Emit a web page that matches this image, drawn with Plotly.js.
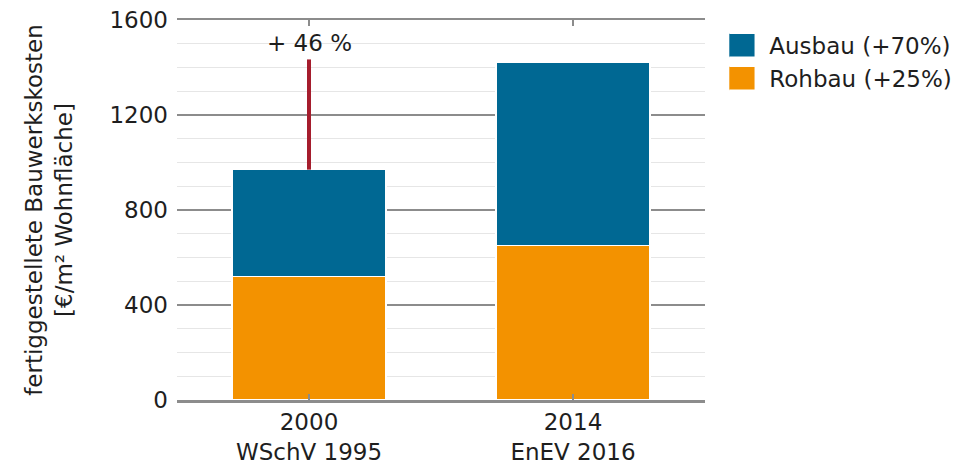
<!DOCTYPE html>
<html>
<head>
<meta charset="utf-8">
<script src="https://cdn.plot.ly/plotly-3.0.1.min.js"></script>
<style>html,body{margin:0;padding:0;background:#fff;}#chart{width:979px;height:468px;}</style>
</head>
<body>
<div id="chart"></div>
<script>
// Data
const categories = ["2000<br>WSchV 1995", "2014<br>EnEV 2016"];
const rohbau = [520, 650];
const ausbau = [450, 773];
const seriesNames = ["Ausbau (+70%)", "Rohbau (+25%)"];
const increaseCategory = ["2000<br>WSchV 1995", "2000<br>WSchV 1995"];
const increaseY = [970, 1434];
const increaseLabel = "+ 46 %";
const increaseLabelY = 1503;
const yTicks = [0, 400, 800, 1200, 1600];

const FONT = "DejaVu Sans, Liberation Sans, Arial, sans-serif";
const BLUE = "#006893";
const ORANGE = "#f39200";
const RED = "#a51d2d";
const GRID = "#8c8c8c";

const traces = [
  {
    type: "bar", name: seriesNames[1], x: categories, y: rohbau,
    marker: {color: ORANGE, line: {color: "#ffffff", width: 1.5}},
    hoverinfo: "skip"
  },
  {
    type: "bar", name: seriesNames[0], x: categories, y: ausbau,
    marker: {color: BLUE, line: {color: "#ffffff", width: 1.5}},
    hoverinfo: "skip"
  },
  {
    type: "scatter", mode: "lines", x: increaseCategory, y: increaseY,
    line: {color: RED, width: 4}, showlegend: false, hoverinfo: "skip"
  }
];

const layout = {
  width: 979, height: 468,
  margin: {l: 177, r: 274, t: 20, b: 68},
  paper_bgcolor: "#ffffff", plot_bgcolor: "#ffffff",
  barmode: "stack", bargap: 0.417,
  font: {family: FONT, size: 23, color: "#1e1e1e"},
  showlegend: true,
  legend: {
    x: 1.046, xanchor: "left", y: 0.99, yanchor: "top",
    traceorder: "reversed", font: {family: FONT, size: 23, color: "#1e1e1e"},
    bgcolor: "rgba(0,0,0,0)"
  },
  xaxis: {
    type: "category",
    showline: true, linecolor: GRID, linewidth: 2.5, mirror: "ticks",
    ticks: "inside", ticklen: 6, tickwidth: 2, tickcolor: GRID,
    showgrid: false, zeroline: false,
    tickfont: {family: FONT, size: 23, color: "#1e1e1e"}
  },
  yaxis: {
    range: [0, 1600], tickvals: yTicks, ticktext: yTicks.map(String),
    showgrid: true, gridcolor: GRID, gridwidth: 2.5,
    zeroline: false, showline: false, ticks: "",
    ticklabelstandoff: 8,
    minor: {dtick: 100, showgrid: true, gridcolor: "#e6e6e6", gridwidth: 1, ticks: ""},
    tickfont: {family: FONT, size: 23, color: "#1e1e1e"},
    title: {
      text: "fertiggestellete Bauwerkskosten<br>[€/m² Wohnfläche]",
      font: {family: FONT, size: 23, color: "#1e1e1e"},
      standoff: 30
    }
  },
  annotations: [{
    x: increaseCategory[0], y: increaseLabelY, xref: "x", yref: "y",
    text: increaseLabel, showarrow: false,
    font: {family: FONT, size: 23, color: "#1e1e1e"}
  }]
};

Plotly.newPlot("chart", traces, layout, {displayModeBar: false, staticPlot: true}).then(function () {
  document.querySelectorAll(".legend .legendpoints path").forEach(function (p) {
    p.setAttribute("d", "M-22,-12H6V12H-22Z");
  });
});
</script>
</body>
</html>
